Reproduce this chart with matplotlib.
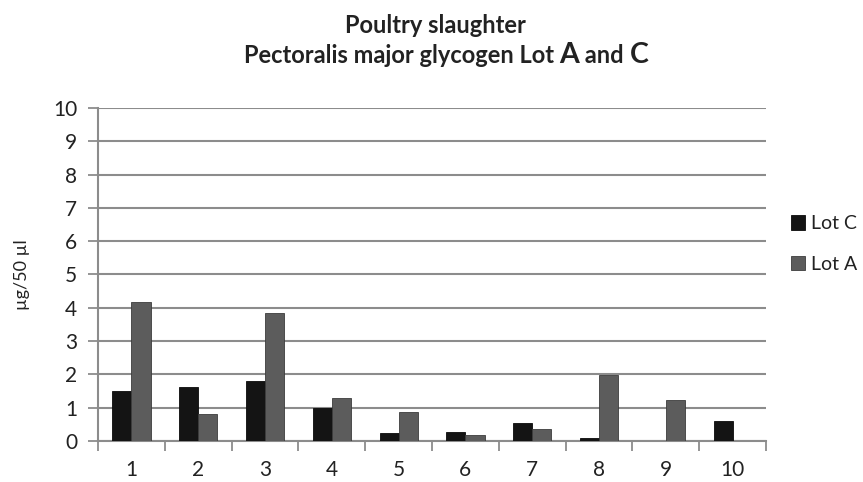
import numpy as np
import matplotlib.pyplot as plt
from matplotlib.offsetbox import TextArea, HPacker, AnchoredOffsetbox

###############################################################################

# Values
samples = ['1', '2', '3', '4', '5', '6', '7', '8', '9', '10']
lot_c = [1.49, 1.63, 1.80, 0.98, 0.23, 0.26, 0.53, 0.08, 0.0, 0.60]
lot_a = [4.17, 0.80, 3.84, 1.29, 0.87, 0.18, 0.35, 1.99, 1.22, 0.0]
yticks = list(range(0, 11))

###############################################################################

plt.rcParams['font.family'] = ['Lato', 'DejaVu Sans']

fig = plt.figure(figsize=(8.63, 4.82), dpi=100)
ax = fig.add_axes([0.1136, 0.085, 0.7740, 0.691])

x = np.arange(1, len(samples) + 1)
w = 1 / 3.5
ax.bar(x - w/2, lot_c, w, color='#141414', edgecolor='#0a0a0a', lw=0.6,
       label='Lot C', zorder=3)
ax.bar(x + w/2, lot_a, w, color='#5c5c5c', edgecolor='#3c3c3c', lw=0.6,
       label='Lot A', zorder=3)

ax.set_xlim(0.5, len(samples) + 0.5)
ax.set_ylim(0, 10)
ax.set_yticks(yticks)
ax.set_yticklabels([str(t) for t in yticks], fontsize=15, color='#222222')
ax.set_xticks(x)
ax.set_xticklabels(samples, fontsize=15, color='#222222')
ax.tick_params(axis='x', which='major', length=0, pad=14)
ax.set_xticks(np.arange(0.5, len(samples) + 1), minor=True)
ax.tick_params(axis='x', which='minor', length=7, width=1.3, color='#8c8c8c',
               direction='out')
ax.tick_params(axis='y', length=7, width=1.3, color='#8c8c8c', pad=8)

ax.grid(axis='y', color='#8c8c8c', lw=1.5, zorder=0)
for s in ['top', 'right']:
    ax.spines[s].set_visible(False)
for s in ['left', 'bottom']:
    ax.spines[s].set_color('#8c8c8c')
    ax.spines[s].set_linewidth(1.5)

fig.text(0.026, 0.43, 'µg/50 µl', rotation=90, fontsize=13, color='#222222',
         ha='center', va='center')

# Title: second line has larger A and C
tp = dict(fontsize=17, fontweight='bold', color='#222222')
fig.text(0.504, 0.932, 'Poultry slaughter', ha='center', va='baseline', **tp)
parts = [TextArea('Pectoralis major glycogen Lot ', textprops=tp),
         TextArea('A', textprops=dict(tp, fontsize=20.5)),
         TextArea(' and ', textprops=tp),
         TextArea('C', textprops=dict(tp, fontsize=20.5))]
box = HPacker(children=parts, align='baseline', pad=0, sep=0)
anch = AnchoredOffsetbox(loc='center', child=box, frameon=False,
                         bbox_to_anchor=(0.517, 0.885), bbox_transform=fig.transFigure,
                         borderpad=0, pad=0)
fig.add_artist(anch)

fig.legend(loc='center left', bbox_to_anchor=(0.905, 0.494), frameon=False,
           fontsize=14, handlelength=0.75, handleheight=0.75, handletextpad=0.3,
           labelspacing=1.2, borderpad=0, labelcolor='#222222')

fig.savefig('out.png', dpi=100)
